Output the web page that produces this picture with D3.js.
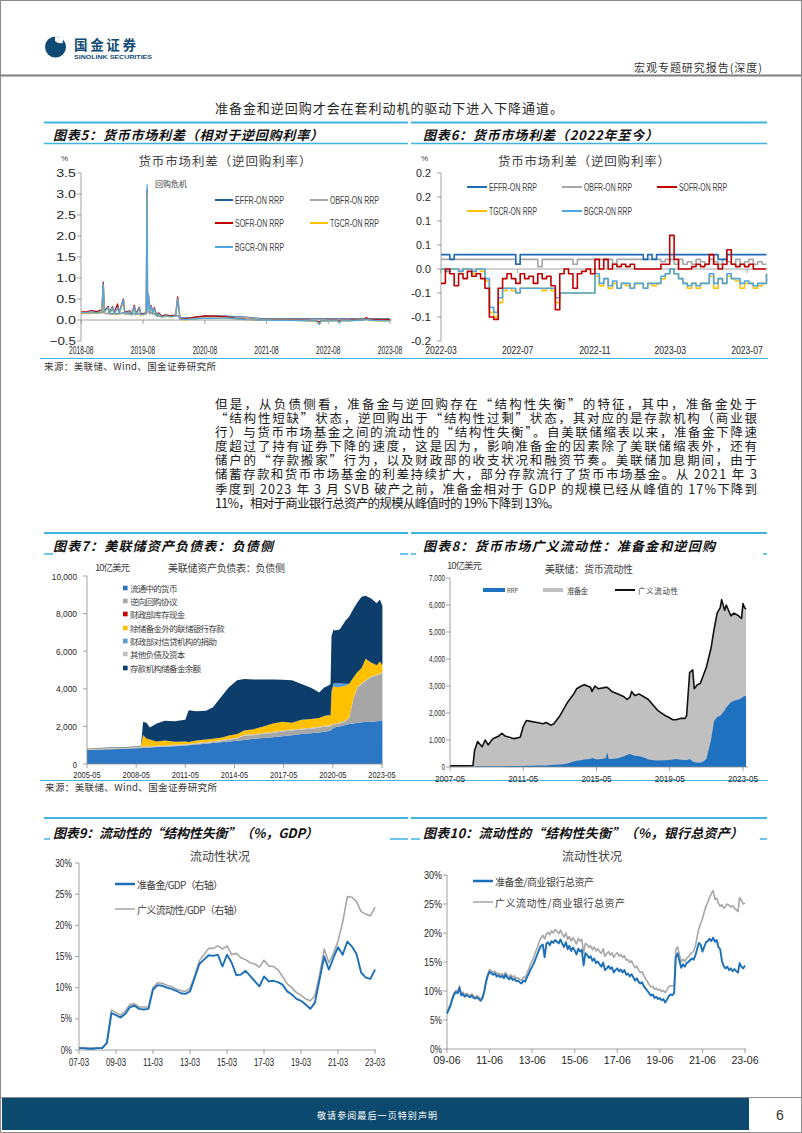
<!DOCTYPE html>
<meta charset="utf-8">
<style>
body { margin: 0; background: #fff; }
svg { display: block; }
</style>
<body>
<script src="https://d3js.org/d3.v7.min.js"></script>
<script>

// ---------- chart 5: spreads vs ON RRP, 2018-2023 ----------
const c5Dates = ["2018-08-01","2018-09-01","2018-10-01","2018-11-01","2018-12-01","2018-12-09","2018-12-15","2019-01-08","2019-01-15","2019-02-02",
  "2019-02-10","2019-03-04","2019-03-12","2019-04-07","2019-04-15","2019-05-16","2019-05-25","2019-06-11","2019-06-20","2019-07-10",
  "2019-07-20","2019-08-20","2019-08-25","2019-08-28","2019-09-02","2019-09-10","2019-09-18","2019-09-28","2019-10-07","2019-10-20",
  "2019-10-31","2019-11-20","2019-12-13","2020-01-15","2020-02-10","2020-02-22","2020-03-07","2020-04-01","2020-06-01","2020-08-01",
  "2020-10-01","2020-12-01","2021-02-01","2021-04-01","2021-07-01","2021-10-01","2022-01-01","2022-04-01","2022-05-20","2022-06-10",
  "2022-06-20","2022-08-01","2022-09-25","2022-10-05","2022-10-15","2022-12-01","2023-01-15","2023-03-01","2023-03-15","2023-03-25",
  "2023-05-01","2023-06-15","2023-07-31"];
const c5Effr = [0.16,0.16,0.17,0.17,0.18,0.2,0.16,0.16,0.15,0.15, 0.15,0.15,0.15,0.17,0.15,0.15,0.15,0.16,0.15,0.15,
  0.15,0.15,0.3,0.2,0.2,0.15,0.18,0.15,0.15,0.1, 0.1,0.08,0.1,0.1,0.1,0.1,0.05,0.05,0.06,0.09,
  0.09,0.09,0.08,0.07,0.03,0.03,0.03,0.03,0.03,0.03, 0.03,0.03,0.03,0.03,0.03,0.03,0.03,0.03,0.03,0.03, 0.03,0.03,0.03];
const c5Obfr = [0.15,0.15,0.16,0.16,0.17,0.19,0.15,0.15,0.14,0.14, 0.14,0.14,0.14,0.16,0.14,0.14,0.14,0.15,0.14,0.14,
  0.14,0.14,0.28,0.19,0.19,0.14,0.17,0.14,0.14,0.09, 0.09,0.07,0.09,0.09,0.09,0.09,0.04,0.04,0.05,0.07,
  0.07,0.07,0.07,0.06,0.02,0.02,0.02,0.02,0.02,0.02, 0.02,0.02,0.02,0.02,0.02,0.02,0.02,0.02,0.02,0.02, 0.02,0.02,0.02];
const c5Sofr = [0.19,0.2,0.22,0.2,0.25,0.9,0.22,0.32,0.17,0.32, 0.17,0.38,0.17,0.5,0.19,0.22,0.14,0.35,0.15,0.3,
  0.14,0.17,3.1,0.24,0.6,0.22,0.35,0.17,0.3,0.12, 0.17,0.1,0.12,0.1,0.12,0.55,0.03,0.02,0.07,0.1,
  0.09,0.08,0.04,0.02,0.0,-0.005,-0.005,-0.01,-0.02,-0.05, -0.02,-0.01,-0.01,-0.03,-0.01,-0.01,0.0,0.01,0.06,0.02, 0.01,0.0,0.01];
const c5Tgcr = [0.16,0.17,0.19,0.16,0.21,0.8,0.19,0.28,0.14,0.28, 0.14,0.28,0.14,0.45,0.16,0.19,0.11,0.3,0.12,0.26,
  0.11,0.14,3.0,0.21,0.58,0.19,0.31,0.14,0.26,0.09, 0.14,0.07,0.09,0.07,0.09,0.48,0.02,0.0,0.03,0.04,
  0.04,0.05,0.02,0.01,0.0,-0.01,-0.01,-0.02,-0.03,-0.1, -0.03,-0.02,-0.02,-0.07,-0.02,-0.02,-0.01,0.0,0.02,0.0, -0.02,-0.02,-0.02];
const c5Bgcr = [0.17,0.18,0.2,0.17,0.22,0.86,0.2,0.3,0.15,0.3, 0.15,0.3,0.15,0.48,0.17,0.2,0.12,0.32,0.13,0.28,
  0.12,0.15,3.22,0.22,0.62,0.2,0.33,0.15,0.28,0.1, 0.15,0.08,0.1,0.08,0.1,0.5,0.02,0.01,0.03,0.04,
  0.04,0.05,0.03,0.01,0.0,-0.01,-0.01,-0.02,-0.02,-0.1, -0.02,-0.02,-0.02,-0.07,-0.02,-0.02,-0.01,0.0,0.02,0.0, -0.01,-0.02,-0.02];
const c5YTicks = [-0.5, 0, 0.5, 1, 1.5, 2, 2.5, 3, 3.5];
const c5XTicks = ["2018-08","2019-08","2020-08","2021-08","2022-08","2023-08"];

// ---------- chart 6: spreads vs ON RRP, weekly from 2022-03 ----------
const c6Start = "2022-03-01";
const c6Effr = [0.03,0.03,0.02,0.03,0.03,0.03,0.03,0.03,0.03,0.03, 0.03,0.03,0.03,0.03,0.03,0.03,0.03,0.01,0.03,0.03,
  0.03,0.03,0.03,0.03,0.03,0.03,0.03,0.03,0.03,0.03, 0.03,0.03,0.03,0.03,0.03,0.03,0.03,0.03,0.03,0.03,
  0.03,0.03,0.03,0.03,0.03,0.03,0.02,0.03,0.02,0.03, 0.03,0.03,0.03,0.03,0.03,0.03,0.03,0.03,0.03,0.03,
  0.03,0.03,0.03,0.02,0.02,0.03,0.03,0.03,0.03,0.03, 0.03,0.03,0.03,0.03,0.03];
const c6Obfr = [0.02,0.02,0.02,0.02,0.02,0.02,0.02,0.02,0.02,0.02, 0.02,0.02,0.02,0.02,0.02,0.02,0.02,0.01,0.02,0.02,
  0.02,0.02,0.005,0.02,0.02,0.02,0.02,0.02,0.02,0.02, 0.01,0.02,0.02,0.02,0.02,0.02,0.02,0.02,0.02,0.01,
  0.02,0.02,0.02,0.02,0.02,0.02,0.02,0.02,0.02,0.02, 0.015,0.02,0.02,0.01,0.02,0.01,0.015,0.01,0.02,0.015,
  0.01,0.02,0.015,0.01,0.02,0.015,0.01,0.02,0.01,0.015, 0.02,0.01,0.015,0.01,0.01];
const c6Sofr = [-0.03,0,-0.01,-0.035,-0.01,-0.02,-0.005,-0.015,-0.01,-0.02, -0.04,-0.1,-0.105,-0.04,-0.02,-0.01,-0.02,-0.03,-0.01,-0.02,
  -0.015,-0.03,-0.01,-0.02,-0.015,-0.035,-0.085,-0.01,0,-0.01, -0.04,-0.01,-0.005,0,-0.01,0.02,0,0.02,0,0.01,
  0.005,0.01,0.005,0.01,0,0,0,0,0,0, 0.01,0.01,0.07,0.02,0,0,0,0.005,0.01,0.005,
  0.01,0.03,0.01,0,0.01,0.04,0.01,0.005,0.01,0.005, 0.01,0,0,0,0];
const c6Tgcr = [0,-0.005,0,0,-0.005,0,0,-0.01,0,-0.005, -0.025,-0.09,-0.1,-0.07,-0.045,-0.04,-0.045,-0.05,-0.04,-0.04,
  -0.04,-0.04,-0.04,-0.045,-0.04,-0.045,-0.07,-0.05,-0.05,-0.05, -0.05,-0.05,-0.05,-0.05,-0.05,-0.015,-0.035,-0.02,-0.04,-0.03,
  -0.04,-0.03,-0.035,-0.04,-0.03,-0.03,-0.04,-0.03,-0.035,-0.03, -0.02,-0.01,0,-0.01,-0.02,-0.03,-0.04,-0.03,-0.04,-0.03,
  -0.03,-0.015,-0.04,-0.02,-0.03,-0.015,-0.02,-0.025,-0.04,-0.03, -0.03,-0.04,-0.035,-0.03,-0.01];
const c6Bgcr = [0,-0.005,0,0,-0.005,0,0,-0.005,0,0, -0.02,-0.08,-0.09,-0.06,-0.04,-0.04,-0.04,-0.05,-0.04,-0.04,
  -0.04,-0.04,-0.04,-0.04,-0.04,-0.04,-0.06,-0.05,-0.05,-0.05, -0.05,-0.05,-0.05,-0.05,-0.05,-0.01,-0.03,-0.02,-0.035,-0.025,
  -0.04,-0.03,-0.03,-0.04,-0.03,-0.03,-0.04,-0.03,-0.03,-0.03, -0.015,-0.01,0,-0.01,-0.02,-0.03,-0.035,-0.03,-0.035,-0.03,
  -0.03,-0.01,-0.03,-0.02,-0.03,-0.01,-0.02,-0.02,-0.03,-0.025, -0.03,-0.035,-0.03,-0.03,-0.01];
const c6YTicks = [-0.15, -0.1, -0.05, 0, 0.05, 0.1, 0.15, 0.2];
const c6YLabels = ["-0.2","-0.1","-0.1","0.0","0.1","0.1","0.2","0.2"];
const c6XTicks = ["2022-03","2022-07","2022-11","2023-03","2023-07"];

// ---------- chart 7: Fed liabilities, billions USD ----------
const c7Dates = ["2005-05-01","2006-05-01","2007-05-01","2008-08-15","2008-10-01","2008-12-15","2009-03-01","2009-08-01","2010-02-01","2010-09-01",
  "2011-05-01","2011-07-15","2012-01-01","2012-08-01","2013-01-01","2013-07-01","2014-01-01","2014-07-01","2014-12-01","2015-07-01",
  "2016-02-01","2016-09-01","2017-04-01","2017-11-01","2018-06-01","2019-01-01","2019-07-01","2019-10-15","2020-02-15","2020-03-10",
  "2020-04-01","2020-05-15","2020-06-15","2020-10-01","2021-02-01","2021-05-01","2021-08-01","2021-11-01","2022-02-01","2022-05-01",
  "2022-09-01","2023-01-01","2023-03-15","2023-05-10"];
const c7Currency = [740,770,800,850,860,870,880,900,920,950, 980,1000,1040,1080,1120,1160,1200,1240,1280,1340,
  1380,1420,1480,1530,1590,1630,1680,1720,1760,1780, 1850,1900,1950,2000,2080,2130,2160,2190,2220,2240, 2250,2270,2290,2320];
const c7Rrp = [20,20,20,20,55,35,35,32,32,30, 30,30,38,48,48,56,86,115,225,194,
  224,233,253,252,242,251,251,260,240,230, 205,188,160,160,180,330,1300,1870,2040,2170, 2360,2440,2470,2540];
const c7TreasuryCash = [0.5,0.4,0.4,0.3,0.3,0.3,0.3,0.3,0.3,0.2, 0.2,0.2,0.2,0.2,0.2,0.2,0.2,0.2,0.2,0.2,
  0.2,0.2,0.2,0.2,0.2,0.2,0.2,0.2,0.2,0.2, 0.2,0.2,0.2,0.2,0.2,0.2,0.2,0.2,0.2,0.2, 0.2,0.2,0.2,0.2];
const c7OtherDeposits = [20,20,20,20,590,420,350,230,260,160, 150,100,130,130,130,140,190,200,230,270,
  350,450,470,370,470,470,470,520,550,490, 1700,2020,1950,1900,1850,1750,1100,800,800,1150, 750,500,650,350];
const c7TreasuryContrib = [0,0,0,0,0,0,0,0,0,0, 0,0,0,0,0,0,0,0,0,0,
  0,0,0,0,0,0,0,0,0,0, 50,150,190,200,120,20,0,0,0,0, 0,0,0,0];
const c7OtherLiab = [30,30,30,30,35,35,35,38,38,40, 40,40,42,42,42,44,44,45,45,46,
  46,47,47,48,48,49,49,50,50,50, 45,42,40,40,40,40,40,40,40,40, 40,40,40,40];
const c7Reserves = [20,20,20,20,700,840,640,950,1050,1090, 1150,1690,1550,1530,1660,2150,2580,2850,2740,2650,
  2500,2340,2230,2250,1900,1650,1350,1500,1600,1700, 2950,2850,2810,2850,3330,3580,3650,3700,3800,3350, 3400,3300,3300,3150];
const c7Names = ["流通中的货币","逆向回购协议","财政部库存现金","除储备金外的联储银行存款","财政部对信贷机构的捐助","其他负债及资本","存款机构储备金余额"];
const c7YTicks = [0, 2000, 4000, 6000, 8000, 10000];
const c7XTicks = ["2005-05","2008-05","2011-05","2014-05","2017-05","2020-05","2023-05"];

// ---------- chart 8: reserves + RRP, billions USD ----------
const c8Dates = ["2007-05","2008-08","2008-09","2008-11","2009-02","2009-04","2009-06","2009-09","2010-01","2010-03",
  "2010-05","2010-08","2010-11","2011-03","2011-05","2011-07","2011-09","2012-02","2012-06","2012-08",
  "2012-11","2013-01","2013-05","2013-07","2013-10","2014-02","2014-04","2014-07","2014-09","2015-01",
  "2015-02","2015-04","2015-06","2015-11","2015-12","2016-01","2016-03","2016-07","2016-11","2017-01",
  "2017-03","2017-04","2017-06","2017-09","2017-12","2018-03","2018-06","2018-09","2019-02","2019-04",
  "2019-07","2019-09","2019-12","2020-03","2020-04","2020-06","2020-08","2020-09","2020-11","2021-01",
  "2021-03","2021-05","2021-08","2021-10","2021-12","2022-02","2022-03","2022-05","2022-06","2022-09",
  "2022-11","2023-02","2023-04","2023-05","2023-06","2023-07"];
const c8Broad = [40,45,600,940,750,1000,820,1050,1150,1250, 1150,1100,1050,1100,1500,1720,1700,1650,1600,1650,
  1550,1600,1900,2100,2400,2700,2900,3000,3050,2950, 2800,3000,2900,2950,2950,2900,2800,2700,2600,2500,
  2600,2800,2650,2700,2600,2500,2300,2100,1900,1850, 1750,1750,1800,1800,1900,3500,3600,2900,3050,3100,
  3400,3700,4400,5100,5700,5900,6200,5800,6000,5600, 5700,5600,5500,6050,5900,5850];
const c8Rrp = [0,0,20,30,30,30,30,30,30,30, 30,40,40,40,40,50,50,60,60,60,
  70,80,90,100,130,200,230,250,280,300, 330,300,280,320,550,300,300,320,400,450,
  480,450,420,400,350,280,250,240,250,260, 280,300,270,260,250,300,200,180,170,160,
  200,300,1000,1700,1850,1900,1950,2100,2200,2400, 2450,2500,2550,2600,2620,2650];
const c8YTicks = [0, 1000, 2000, 3000, 4000, 5000, 6000, 7000];
const c8XTicks = ["2007-05","2011-05","2015-05","2019-05","2023-05"];

// ---------- chart 9: % of GDP, quarterly from 2007Q1 ----------
const c9Start = "2007-03";
const c9Reserves = [0.3,0.3,0.2,0.2,0.3,0.3,1.1,5.9,5.6,5.2, 5.8,6.9,7.1,6.6,6.5,6.6,9.7,10.4,10.3,10.0,
  9.8,9.5,9.1,9.0,9.4,11.6,13.8,14.5,15.2,15.1, 15.3,13.4,15.3,14.0,12.0,12.1,12.7,11.9,11.0,10.2,
  11.8,11.0,11.1,10.9,10.5,9.4,8.9,8.2,7.9,7.3, 6.6,7.6,11.3,15.0,12.9,14.8,16.5,15.3,17.4,16.6, 15.4,12.4,11.6,11.4,12.9];
const c9Broad = [0.3,0.3,0.3,0.3,0.3,0.3,1.2,6.4,6.0,5.6, 6.3,7.3,7.4,6.9,6.9,6.9,10.0,10.8,10.7,10.4,
  10.2,9.8,9.5,9.4,9.9,11.9,14.3,15.3,16.3,16.3, 16.7,16.2,16.7,15.3,15.5,14.8,14.5,14.0,13.8,13.3,
  14.4,13.5,13.4,12.9,11.8,10.6,10.0,9.2,8.8,8.2, 7.9,8.7,12.0,16.2,14.0,15.5,17.5,20.5,24.6,24.5, 23.8,22.2,21.8,21.5,22.9];
const c9XTicks = ["2007-03","2009-03","2011-03","2013-03","2015-03","2017-03","2019-03","2021-03","2023-03"];

// ---------- chart 10: % of bank assets, monthly from 2009-06 ----------
const c10Start = "2009-06";
const c10Reserves = [6.1,6.8,7.5,8.6,9.4,9.8,9.6,
  10.5,9.2,9.5,9.0,9.3,9.1,8.9,9.2,8.8,8.7,8.9,8.6,
  8.3,8.8,9.8,11.5,12.6,13.3,13.1,12.8,13.0,12.5,12.7,12.4,
  12.6,12.2,12.8,12.3,12.0,12.4,11.9,12.1,11.7,11.8,11.5,11.3,
  11.8,11.6,12.3,12.9,13.6,14.2,14.8,15.6,16.4,17.2,17.8,18.0,
  15.8,18.2,18.4,17.9,18.6,18.3,18.8,18.5,18.2,18.9,18.1,17.6,
  18.4,17.2,17.8,16.9,17.5,17.0,16.3,17.3,16.8,17.1,14.4,16.5,
  16.2,15.7,16.0,15.2,15.6,14.8,15.1,14.6,14.2,14.9,13.6,13.9,
  14.3,13.8,14.1,13.2,13.6,13.9,13.4,13.7,13.2,13.6,12.8,13.0,
  12.5,12.9,12.4,11.8,12.2,11.6,11.3,11.5,10.8,10.4,10.0,9.6,
  9.2,9.4,8.8,9.0,8.6,8.8,8.4,8.6,8.0,8.5,9.1,9.4,
  9.3,9.6,15.8,16.5,15.2,14.0,14.6,14.2,14.8,15.0,15.3,15.6,
  15.4,16.2,17.2,18.3,18.0,16.8,17.6,18.4,18.6,19.0,18.6,19.2,
  18.5,18.8,17.6,17.2,15.2,14.3,13.9,14.2,13.6,13.9,13.4,13.8,
  13.4,13.2,14.8,14.2,13.9,14.4];
const c10Broad = [6.4,7.1,7.8,8.9,9.7,10.1,9.9,
  10.9,9.5,9.8,9.3,9.6,9.4,9.2,9.5,9.1,9.0,9.2,8.9,
  8.6,9.1,10.1,11.8,12.9,13.7,13.5,13.2,13.4,12.9,13.1,12.8,
  13.0,12.6,13.2,12.7,12.4,12.8,12.4,12.6,12.2,12.3,12.0,11.9,
  12.4,12.3,13.0,13.7,14.5,15.2,15.9,16.8,17.6,18.5,19.2,19.6,
  19.0,19.8,20.1,19.7,20.4,20.0,20.6,20.3,19.9,20.5,19.8,19.3,
  20.0,18.9,19.4,18.6,19.2,18.7,18.1,19.1,18.6,18.9,16.6,18.2,
  18.0,17.5,17.8,17.1,17.6,16.9,17.3,16.8,16.5,17.3,16.0,16.4,
  16.8,16.2,16.6,15.8,16.3,16.6,16.0,16.3,15.8,16.1,15.3,15.4,
  14.9,15.2,14.6,14.0,14.3,13.6,13.2,13.3,12.6,12.1,11.6,11.1,
  10.7,10.8,10.3,10.5,10.1,10.3,9.9,10.1,9.7,10.2,10.7,10.9,
  10.8,11.0,17.2,17.6,16.3,15.0,15.5,15.1,15.6,15.9,16.3,16.6,
  16.9,17.8,19.3,20.8,21.6,22.5,23.6,24.6,25.3,26.2,26.8,27.3,
  25.8,26.0,25.1,24.6,24.9,24.3,24.6,25.0,24.8,24.5,24.7,24.3,
  24.0,23.7,26.1,25.6,25.0,25.2];
const c10XTicks = ["2009-06","2011-06","2013-06","2015-06","2017-06","2019-06","2021-06","2023-06"];
const pctTicks = [0, 5, 10, 15, 20, 25, 30];

// ---------- page text ----------
const leadLine = "准备金和逆回购才会在套利动机的驱动下进入下降通道。";
const bodyLines = [
  "但是，从负债侧看，准备金与逆回购存在“结构性失衡”的特征，其中，准备金处于",
  "“结构性短缺”状态，逆回购出于“结构性过剩”状态，其对应的是存款机构（商业银",
  "行）与货币市场基金之间的流动性的“结构性失衡”。自美联储缩表以来，准备金下降速",
  "度超过了持有证券下降的速度，这是因为，影响准备金的因素除了美联储缩表外，还有",
  "储户的“存款搬家”行为，以及财政部的收支状况和融资节奏。美联储加息期间，由于",
  "储蓄存款和货币市场基金的利差持续扩大，部分存款流行了货币市场基金。从 2021 年 3",
  "季度到 2023 年 3 月 SVB 破产之前，准备金相对于 GDP 的规模已经从峰值的 17%下降到",
  "11%，相对于商业银行总资产的规模从峰值时的 19%下降到 13%。"
];

// ================= drawing =================
const CJK = '"Noto Sans CJK SC", "Noto Sans", sans-serif';
const NUM = '"Liberation Sans", Arial, sans-serif';
const CYAN = "#3fb3e4";
const AXIS = "#8c8c8c";
const pD = d3.timeParse("%Y-%m-%d");
const pM = d3.timeParse("%Y-%m");

let svg = d3.select("body").append("svg")
  .attr("width", 802).attr("height", 1133);

function txt(g, x, y, s, o) {
  o = o || {};
  let t = g.append("text")
    .attr("x", x).attr("y", y)
    .attr("dominant-baseline", "central")
    .attr("font-family", o.family || CJK)
    .attr("font-size", o.size || 10)
    .attr("fill", o.fill || "#262626")
    .text(s);
  if (o.anchor) t.attr("text-anchor", o.anchor);
  if (o.weight) t.attr("font-weight", o.weight);
  if (o.italic) t.attr("font-style", "italic");
  if (o.len) t.attr("textLength", o.len).attr("lengthAdjust", o.squeeze ? "spacingAndGlyphs" : "spacing");
  return t;
}

function hline(g, x1, x2, y, color, w) {
  g.append("line").attr("x1", x1).attr("x2", x2).attr("y1", y).attr("y2", y)
    .attr("stroke", color).attr("stroke-width", w);
}

// y axis with tick marks on the left and labels
function yAxis(g, scale, x, ticks, labels, o) {
  let r = scale.range();
  g.append("line").attr("x1", x).attr("x2", x).attr("y1", r[0]).attr("y2", r[1])
    .attr("stroke", AXIS).attr("stroke-width", 0.8);
  ticks.forEach(function(t, i) {
    let y = scale(t);
    g.append("line").attr("x1", x - 4).attr("x2", x).attr("y1", y).attr("y2", y)
      .attr("stroke", AXIS).attr("stroke-width", 0.8);
    txt(g, o.labelX, y, labels[i], { family: NUM, size: o.size, anchor: "end",
      len: o.charW * labels[i].length, squeeze: true });
  });
}

// x axis line at yLine, tick marks, labels at labelY
function xAxis(g, scale, yLine, xEnd, ticks, fmt, labelY, o) {
  let x0 = scale.range()[0];
  g.append("line").attr("x1", x0).attr("x2", xEnd).attr("y1", yLine).attr("y2", yLine)
    .attr("stroke", AXIS).attr("stroke-width", 0.8);
  ticks.forEach(function(t) {
    let x = scale(t);
    g.append("line").attr("x1", x).attr("x2", x).attr("y1", yLine).attr("y2", yLine + 4)
      .attr("stroke", AXIS).attr("stroke-width", 0.8);
    let s = fmt(t);
    txt(g, x, labelY, s, { family: NUM, size: o.size, anchor: "middle",
      len: o.charW * s.length, squeeze: true });
  });
}

// ---------- page frame, header, footer ----------
svg.append("rect").attr("x", 0.5).attr("y", 0.5).attr("width", 801).attr("height", 1132)
  .attr("fill", "#fff").attr("stroke", "#8c8c8c");
hline(svg, 1, 801, 75.5, "#7f7f7f", 2);

let logo = svg.append("g");
logo.append("circle").attr("cx", 55.5).attr("cy", 47).attr("r", 10.5).attr("fill", "#0f4b74");
logo.append("path").attr("d", "M55,36 Q62,38 63,43 Q58,44 55,41 Z").attr("fill", "#fff");
logo.append("circle").attr("cx", 60.5).attr("cy", 39.5).attr("r", 2.6).attr("fill", "#fff");
txt(logo, 74, 43.5, "国金证券", { size: 13.5, weight: "bold", fill: "#0f4b74", len: 62 });
txt(logo, 74, 56.5, "SINOLINK SECURITIES", { family: NUM, size: 6, weight: "bold", fill: "#0f4b74", len: 78, squeeze: true });
txt(svg, 762, 67, "宏观专题研究报告(深度)", { size: 11, anchor: "end", fill: "#333", len: 128 });

txt(svg, 215, 107, leadLine, { size: 13, len: 348 });

hline(svg, 0, 802, 1097.5, "#8c8c8c", 1);
svg.append("rect").attr("x", 2).attr("y", 1098).attr("width", 747).attr("height", 32).attr("fill", "#0b4a6e");
txt(svg, 377, 1115, "敬请参阅最后一页特别声明", { size: 9, anchor: "middle", fill: "#fff", len: 120 });
txt(svg, 780, 1115, "6", { family: NUM, size: 14, anchor: "middle", fill: "#333" });

// ---------- body paragraph: one text block, one tspan per justified line ----------
let paraY = [403.3, 417.3, 431, 445, 459.3, 473.3, 487.7, 501.7];
let para = svg.append("text")
  .attr("font-family", CJK).attr("font-size", 12.5).attr("fill", "#1a1a1a")
  .attr("dominant-baseline", "central");
bodyLines.forEach(function(s, i) {
  para.append("tspan")
    .attr("x", 215).attr("y", paraY[i])
    .attr("textLength", i < 7 ? 542 : 345).attr("lengthAdjust", "spacing")
    .text(s);
});

// ---------- chart block frames ----------
function title(x, y, s, len) {
  txt(svg, x, y, s, { size: 13, weight: "bold", italic: true, fill: "#111", len: len });
}
hline(svg, 44, 408, 122.5, CYAN, 2);
hline(svg, 411, 767, 122.5, CYAN, 2);
hline(svg, 44, 408, 143.5, CYAN, 1.5);
hline(svg, 411, 767, 143.5, CYAN, 1.5);
title(53, 134, "图表5：货币市场利差（相对于逆回购利率）", 270);
title(423, 134, "图表6：货币市场利差（2022年至今）", 235);
hline(svg, 40, 768, 358.5, CYAN, 1);
txt(svg, 44, 366, "来源：美联储、Wind、国金证券研究所", { size: 9.5, fill: "#333", len: 172 });

hline(svg, 44, 408, 533, CYAN, 2);
hline(svg, 411, 767, 533, CYAN, 2);
hline(svg, 44, 53, 554, CYAN, 1.5);
hline(svg, 400, 408, 554, CYAN, 1.5);
hline(svg, 411, 416, 554, CYAN, 1.5);
hline(svg, 763, 767, 554, CYAN, 1.5);
title(53, 545, "图表7：美联储资产负债表：负债侧", 220);
title(423, 545, "图表8：货币市场广义流动性：准备金和逆回购", 292);
hline(svg, 40, 768, 780.5, CYAN, 1);
txt(svg, 45, 787, "来源：美联储、Wind、国金证券研究所", { size: 9.5, fill: "#333", len: 172 });

hline(svg, 44, 408, 818, CYAN, 2);
hline(svg, 411, 767, 818, CYAN, 2);
hline(svg, 44, 50, 839, CYAN, 1.5);
hline(svg, 390, 408, 839, CYAN, 1.5);
hline(svg, 411, 420, 839, CYAN, 1.5);
hline(svg, 760, 767, 839, CYAN, 1.5);
title(53, 832, "图表9：流动性的“结构性失衡”（%，GDP）", 265);
title(423, 832, "图表10：流动性的“结构性失衡”（%，银行总资产）", 320);

// ---------- chart 5 ----------
(function() {
  let g = svg.append("g");
  let x = d3.scaleTime().domain([pM("2018-08"), pM("2023-08")]).range([81.3, 390]);
  let y = d3.scaleLinear().domain([-0.5, 3.5]).range([341, 173]);
  let dates = c5Dates.map(pD);
  let f1 = d3.format(".1f");
  yAxis(g, y, 81, c5YTicks, c5YTicks.map(f1), { labelX: 76, size: 11, charW: 6.6 });
  xAxis(g, x, y(0), 392, c5XTicks.map(pM), d3.timeFormat("%Y-%m"), 350, { size: 10, charW: 3.5 });
  txt(g, 225, 160, "货币市场利差（逆回购利率）", { size: 12.5, anchor: "middle", fill: "#404040", len: 173 });
  txt(g, 64.5, 158, "%", { family: NUM, size: 8, anchor: "middle", fill: "#404040" });
  txt(g, 155, 183, "回购危机", { size: 8, fill: "#404040", len: 32 });

  let series = [
    { v: c5Effr, c: "#1f5fa8", name: "EFFR-ON RRP" },
    { v: c5Obfr, c: "#a6a6a6", name: "OBFR-ON RRP" },
    { v: c5Sofr, c: "#c00000", name: "SOFR-ON RRP" },
    { v: c5Tgcr, c: "#ffc000", name: "TGCR-ON RRP" },
    { v: c5Bgcr, c: "#4ea6e4", name: "BGCR-ON RRP" }
  ];
  let line = d3.line().x(function(d) { return x(d[0]); }).y(function(d) { return y(d[1]); });
  series.forEach(function(s) {
    g.append("path").datum(dates.map(function(d, i) { return [d, s.v[i]]; }))
      .attr("d", line).attr("fill", "none").attr("stroke", s.c).attr("stroke-width", 1.3)
      .attr("stroke-linejoin", "round");
  });
  let legPos = [[215, 200], [310, 200], [215, 223], [310, 223], [215, 247]];
  series.forEach(function(s, i) {
    let p = legPos[i];
    g.append("line").attr("x1", p[0]).attr("x2", p[0] + 18).attr("y1", p[1]).attr("y2", p[1])
      .attr("stroke", s.c).attr("stroke-width", 2);
    txt(g, p[0] + 20, p[1], s.name, { family: NUM, size: 10, fill: "#404040", len: 49, squeeze: true });
  });
})();

// ---------- chart 6 ----------
(function() {
  let g = svg.append("g");
  let x = d3.scaleTime().domain([pM("2022-03"), pM("2023-07")]).range([441, 747]);
  let y = d3.scaleLinear().domain([-0.15, 0.2]).range([341, 173]);
  let start = pD(c6Start);
  let dates = c6Sofr.map(function(_, i) { return d3.timeDay.offset(start, 7 * i); });
  yAxis(g, y, 441, c6YTicks, c6YLabels, { labelX: 431, size: 10.5, charW: 5 });
  xAxis(g, x, y(0), 766, c6XTicks.map(pM), d3.timeFormat("%Y-%m"), 350, { size: 10.5, charW: 4.5 });
  txt(g, 584, 160, "货币市场利差（逆回购利率）", { size: 12.5, anchor: "middle", fill: "#404040", len: 172 });
  txt(g, 424.5, 158, "%", { family: NUM, size: 8, anchor: "middle", fill: "#404040" });

  let series = [
    { v: c6Effr, c: "#1f6bb8", name: "EFFR-ON RRP" },
    { v: c6Obfr, c: "#a6a6a6", name: "OBFR-ON RRP" },
    { v: c6Sofr, c: "#c00000", name: "SOFR-ON RRP" },
    { v: c6Tgcr, c: "#ffc000", name: "TGCR-ON RRP" },
    { v: c6Bgcr, c: "#4ea6e4", name: "BGCR-ON RRP" }
  ];
  let line = d3.line().curve(d3.curveStepAfter)
    .x(function(d) { return x(d[0]); }).y(function(d) { return y(d[1]); });
  [1, 0, 3, 4, 2].forEach(function(k) {
    let s = series[k];
    g.append("path").datum(dates.map(function(d, i) { return [d, s.v[i]]; }))
      .attr("d", line).attr("fill", "none").attr("stroke", s.c).attr("stroke-width", 1.6)
      .attr("stroke-linejoin", "round");
  });
  let legPos = [[467, 187], [562, 187], [657, 187], [467, 211], [562, 211]];
  series.forEach(function(s, i) {
    let p = legPos[i];
    g.append("line").attr("x1", p[0]).attr("x2", p[0] + 20).attr("y1", p[1]).attr("y2", p[1])
      .attr("stroke", s.c).attr("stroke-width", 2);
    txt(g, p[0] + 22, p[1], s.name, { family: NUM, size: 10, fill: "#404040", len: 48, squeeze: true });
  });
})();

// ---------- chart 7 ----------
(function() {
  let g = svg.append("g");
  let x = d3.scaleTime().domain([pM("2005-05"), pM("2023-05")]).range([87, 382]);
  let y = d3.scaleLinear().domain([0, 10000]).range([764, 576]);
  let colors = ["#2b77c5", "#a6a6a6", "#c00000", "#ffc000", "#5b9bd5", "#bfbfbf", "#0c3d6b"];
  let cols = [c7Currency, c7Rrp, c7TreasuryCash, c7OtherDeposits, c7TreasuryContrib, c7OtherLiab, c7Reserves];
  let order = [0, 1, 5, 2, 3, 4, 6];
  let rows = c7Dates.map(function(d, i) {
    let r = { date: pD(d) };
    cols.forEach(function(c, k) { r[k] = c[i]; });
    return r;
  });
  let stack = d3.stack().keys(order)(rows);
  let area = d3.area()
    .x(function(d) { return x(d.data.date); })
    .y0(function(d) { return y(d[0]); })
    .y1(function(d) { return y(d[1]); });
  stack.forEach(function(s) {
    g.append("path").datum(s).attr("d", area).attr("fill", colors[s.key]);
  });
  yAxis(g, y, 87, c7YTicks, c7YTicks.map(d3.format(",")), { labelX: 77, size: 9.5, charW: 4.2 });
  xAxis(g, x, 764, 383, c7XTicks.map(pM), d3.timeFormat("%Y-%m"), 774, { size: 9.5, charW: 3.9 });
  txt(g, 95, 567, "10亿美元", { size: 9.5, fill: "#404040", len: 35 });
  txt(g, 168, 567, "美联储资产负债表：负债侧", { size: 10, fill: "#404040", len: 117 });
  let legY = [588, 601, 614, 628, 641, 654, 668];
  c7Names.forEach(function(n, i) {
    g.append("rect").attr("x", 123).attr("y", legY[i] - 2.3).attr("width", 4.6).attr("height", 4.6)
      .attr("fill", colors[i]);
    txt(g, 130, legY[i], n, { size: 8.5, fill: "#404040", len: 7.9 * n.length });
  });
})();

// ---------- chart 8 ----------
(function() {
  let g = svg.append("g");
  let x = d3.scaleTime().domain([pM("2007-05"), pM("2023-05")]).range([450, 743]);
  let y = d3.scaleLinear().domain([0, 7000]).range([767, 578]);
  let dates = c8Dates.map(pM);
  let broad = dates.map(function(d, i) { return [d, c8Broad[i]]; });
  let rrp = dates.map(function(d, i) { return [d, c8Rrp[i]]; });
  let area = d3.area().x(function(d) { return x(d[0]); }).y0(y(0)).y1(function(d) { return y(d[1]); });
  g.append("path").datum(broad).attr("d", area).attr("fill", "#c0c0c0");
  g.append("path").datum(rrp).attr("d", area).attr("fill", "#1f72c0");
  g.append("path").datum(broad)
    .attr("d", d3.line().x(function(d) { return x(d[0]); }).y(function(d) { return y(d[1]); }))
    .attr("fill", "none").attr("stroke", "#111").attr("stroke-width", 1.6).attr("stroke-linejoin", "round");
  yAxis(g, y, 450, c8YTicks, c8YTicks.map(d3.format(",")), { labelX: 445, size: 8.5, charW: 3.2 });
  xAxis(g, x, 767, 748, c8XTicks.map(pM), d3.timeFormat("%Y-%m"), 778, { size: 9.5, charW: 4.3 });
  txt(g, 447, 565, "10亿美元", { size: 9.5, fill: "#404040", len: 35 });
  txt(g, 545, 568, "美联储：货币流动性", { size: 10, fill: "#404040", len: 88 });
  g.append("rect").attr("x", 483).attr("y", 588).attr("width", 22).attr("height", 4).attr("fill", "#1f72c0");
  txt(g, 507, 590, "RRP", { family: NUM, size: 7.5, fill: "#404040", len: 11, squeeze: true });
  g.append("rect").attr("x", 543).attr("y", 588).attr("width", 20).attr("height", 4).attr("fill", "#c0c0c0");
  txt(g, 567, 590, "准备金", { size: 7.5, fill: "#404040", len: 21 });
  g.append("line").attr("x1", 615).attr("x2", 635).attr("y1", 590).attr("y2", 590).attr("stroke", "#111").attr("stroke-width", 2);
  txt(g, 638, 590, "广义流动性", { size: 7.5, fill: "#404040", len: 40 });
})();

// ---------- charts 9 and 10 ----------
function pctChart(o) {
  let g = svg.append("g");
  let x = d3.scaleTime().domain(o.domain).range(o.xr);
  let y = d3.scaleLinear().domain([0, 30]).range(o.yr);
  let line = d3.line().x(function(d) { return x(d[0]); }).y(function(d) { return y(d[1]); });
  yAxis(g, y, o.xr[0], pctTicks, pctTicks.map(function(t) { return t + "%"; }),
    { labelX: o.labelX, size: 10, charW: o.yCharW });
  xAxis(g, x, o.yr[0], o.xr[1] + 1, o.xTicks, d3.timeFormat("%y-%m"), o.labelY, { size: 10, charW: o.xCharW });
  g.append("path").datum(o.dates.map(function(d, i) { return [d, o.broad[i]]; }))
    .attr("d", line).attr("fill", "none").attr("stroke", "#a6a6a6").attr("stroke-width", 1.6).attr("stroke-linejoin", "round");
  g.append("path").datum(o.dates.map(function(d, i) { return [d, o.res[i]]; }))
    .attr("d", line).attr("fill", "none").attr("stroke", "#1c6fb7").attr("stroke-width", 1.9).attr("stroke-linejoin", "round");
  txt(g, o.titleX, 855, "流动性状况", { size: 12, anchor: "middle", fill: "#404040", len: 60 });
  g.append("line").attr("x1", o.legX).attr("x2", o.legX + 20).attr("y1", o.legY[0]).attr("y2", o.legY[0])
    .attr("stroke", "#1c6fb7").attr("stroke-width", 2.5);
  g.append("line").attr("x1", o.legX).attr("x2", o.legX + 20).attr("y1", o.legY[1]).attr("y2", o.legY[1])
    .attr("stroke", "#a6a6a6").attr("stroke-width", 1.5);
  txt(g, o.legX + 22, o.legY[0], o.names[0], { size: 10, fill: "#404040", len: o.legLen[0] });
  txt(g, o.legX + 22, o.legY[1], o.names[1], { size: 10, fill: "#404040", len: o.legLen[1] });
}

let c9Dates = c9Reserves.map(function(_, i) { return d3.timeMonth.offset(pM(c9Start), 3 * i); });
pctChart({
  domain: [pM("2007-03"), pM("2023-03")], xr: [79, 375], yr: [1050, 863],
  dates: c9Dates, res: c9Reserves, broad: c9Broad,
  xTicks: c9XTicks.map(pM), labelX: 72, labelY: 1062, yCharW: 5.6, xCharW: 4,
  titleX: 220, legX: 115, legY: [884, 909],
  names: ["准备金/GDP（右轴）", "广义流动性/GDP（右轴）"], legLen: [86, 106]
});

let c10Dates = c10Reserves.map(function(_, i) { return d3.timeMonth.offset(pM(c10Start), i); });
pctChart({
  domain: [pM("2009-06"), pM("2023-06")], xr: [447, 745], yr: [1049, 875],
  dates: c10Dates, res: c10Reserves, broad: c10Broad,
  xTicks: c10XTicks.map(pM), labelX: 442, labelY: 1060, yCharW: 6, xCharW: 5.4,
  titleX: 592, legX: 473, legY: [881, 902],
  names: ["准备金/商业银行总资产", "广义流动性/商业银行总资产"], legLen: [99, 130]
});

</script>
</body>
